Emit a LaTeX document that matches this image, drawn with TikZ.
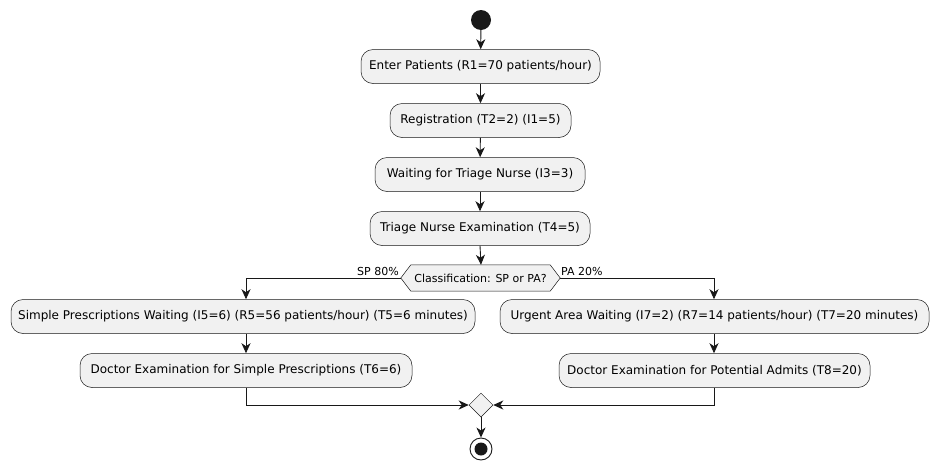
\documentclass[tikz,border=0pt]{standalone}
\usepackage{fontspec}
\setmainfont{DejaVu Sans}
\usetikzlibrary{arrows.meta,shapes.geometric,calc}
\definecolor{boxfill}{HTML}{F1F1F1}
\definecolor{ink}{HTML}{181818}
\tikzset{
  act/.style={draw=ink, fill=boxfill, rounded corners=12pt, line width=0.5pt,
    minimum height=34pt, inner sep=0pt, font=\fontsize{12}{14}\selectfont},
  flow/.style={draw=ink, line width=0.9pt, -{Stealth[length=10pt,width=9pt,inset=3pt]}},
  guard/.style={inner sep=0pt, font=\fontsize{11}{13}\selectfont},
}
\begin{document}
\begin{tikzpicture}[x=1pt,y=-1pt]
  \useasboundingbox (0,0) rectangle (938,469);

  % start and main line
  \node[circle, fill=ink, minimum size=20pt, inner sep=0pt] (start) at (481,20) {};
  \node[act, minimum width=239pt] (enter) at (480.5,66.5) {Enter Patients (R1=70 patients/hour)};
  \node[act, minimum width=181pt] (reg) at (480.5,120.5) {Registration (T2=2) (I1=5)};
  \node[act, minimum width=210pt] (wait) at (480,174.5) {Waiting for Triage Nurse (I3=3)};
  \node[act, minimum width=220pt] (triage) at (480,228.5) {Triage Nurse Examination (T4=5)};

  % classification decision
  \node[inner sep=0pt, minimum width=159pt, minimum height=26pt] (cls) at (480.5,278) {};
  \fill[boxfill, draw=ink, line width=0.5pt]
    (cls.west) -- ($(cls.north west)+(10,0)$) -- ($(cls.north east)+(-10,0)$)
    -- (cls.east) -- ($(cls.south east)+(-10,0)$) -- ($(cls.south west)+(10,0)$) -- cycle;
  \node[guard] (clstext) at (cls) {Classification: SP or PA?};
  \node[guard, anchor=base east] (splbl) at (399,275) {SP 80\%};
  \node[guard, anchor=base west] (palbl) at (561,275) {PA 20\%};

  % simple prescriptions branch
  \node[act, minimum width=464pt] (spw) at (243,316.5) {Simple Prescriptions Waiting (I5=6) (R5=56 patients/hour) (T5=6 minutes)};
  \node[act, minimum width=332pt] (doc1) at (246,370.5) {Doctor Examination for Simple Prescriptions (T6=6)};

  % potential admits branch
  \node[act, minimum width=429pt] (urg) at (714.5,316.5) {Urgent Area Waiting (I7=2) (R7=14 patients/hour) (T7=20 minutes)};
  \node[act, minimum width=311pt] (doc2) at (714.5,370.5) {Doctor Examination for Potential Admits (T8=20)};

  % merge and end
  \node[diamond, draw=ink, fill=boxfill, line width=0.5pt, minimum size=24pt, inner sep=0pt,
        aspect=1] (merge) at (481,405) {};
  \node[circle, draw=ink, line width=0.9pt, minimum size=22pt, inner sep=0pt] (stop) at (481,449) {};
  \node[circle, fill=ink, minimum size=13pt, inner sep=0pt] (stopdot) at (stop) {};

  \coordinate (spcol) at (246,0);
  \coordinate (pacol) at (714,0);

  % connectors
  \draw[flow] (start) -- (enter);
  \draw[flow] (enter) -- (reg);
  \draw[flow] (reg) -- (wait);
  \draw[flow] (wait) -- (triage);
  \draw[flow] (triage.south) -- ($(cls.north)+(0.5,0)$);
  \draw[flow] (cls.west) -| (spw.north -| spcol);
  \draw[flow] (cls.east) -| (urg.north -| pacol);
  \draw[flow] (spw.south -| spcol) -- (doc1.north);
  \draw[flow] (urg.south -| pacol) -- (doc2.north -| pacol);
  \draw[flow] (doc1.south) |- (merge.west);
  \draw[flow] (doc2.south -| pacol) |- (merge.east);
  \draw[flow] (merge.south) -- (stop.north);
\end{tikzpicture}
\end{document}
